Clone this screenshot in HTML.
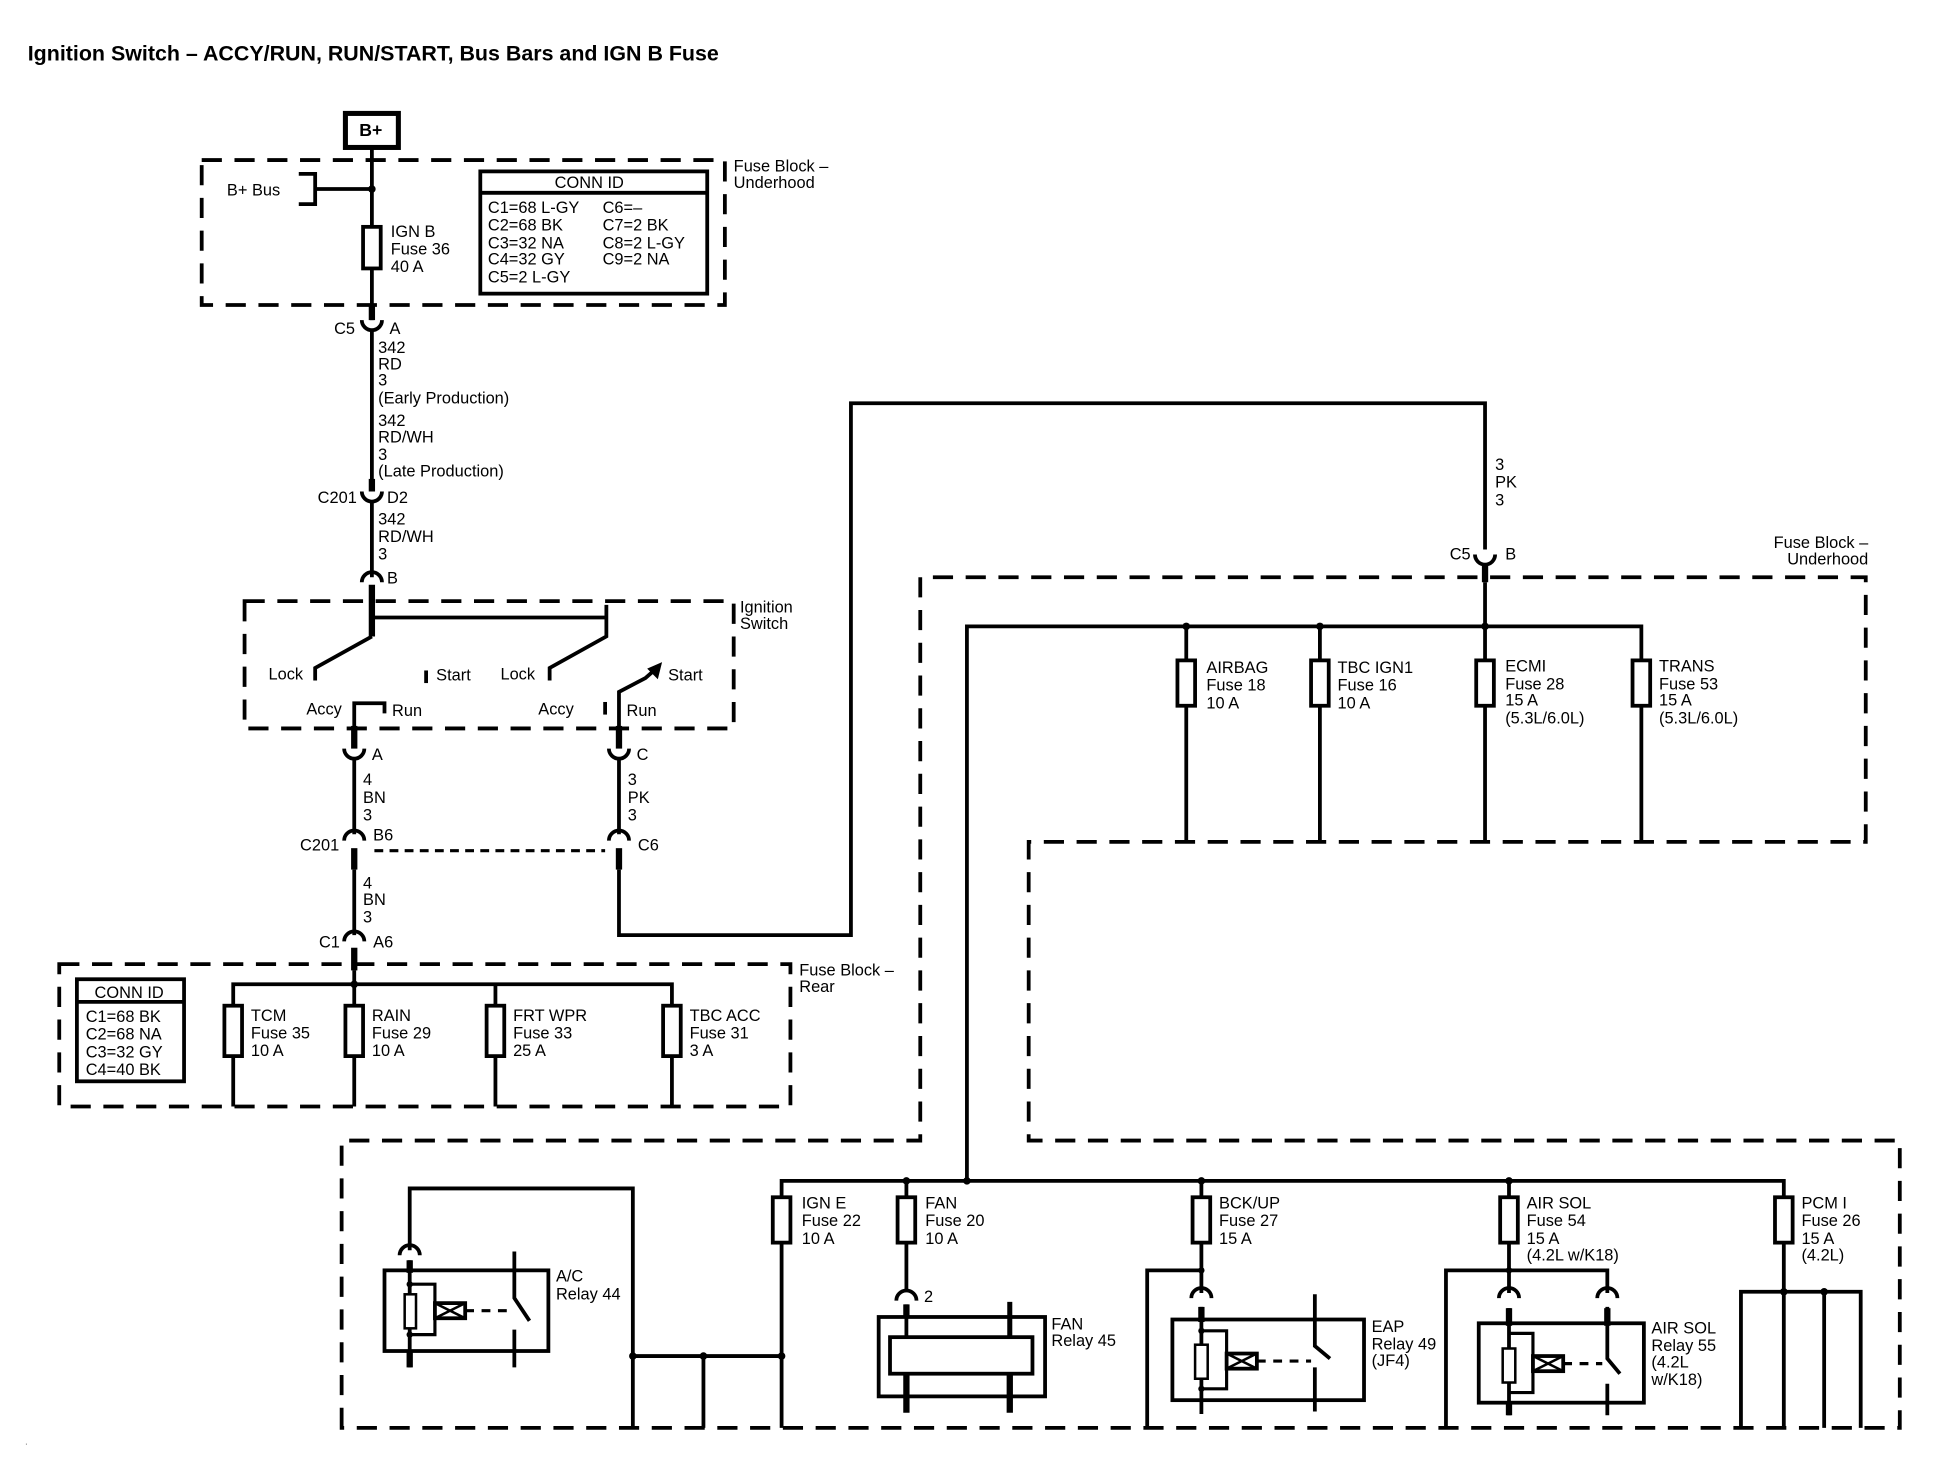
<!DOCTYPE html>
<html><head><meta charset="utf-8"><style>
html,body{margin:0;padding:0;background:#fff;}
svg{display:block}
text{font-family:"Liberation Sans",Arial,sans-serif;font-size:13px;fill:#000;}
</style></head><body>
<svg width="1954" height="1472" viewBox="0 0 1550 1168" preserveAspectRatio="none" xmlns="http://www.w3.org/2000/svg">
<defs>
<g id="relay">
 <rect x="0" y="0" width="130" height="64" fill="none" stroke="#000" stroke-width="3"/>
 <line x1="20" y1="-8" x2="20" y2="77" stroke="#000" stroke-width="3"/>
 <line x1="20" y1="-8" x2="20" y2="2" stroke="#000" stroke-width="5"/>
 <line x1="20" y1="64" x2="20" y2="77" stroke="#000" stroke-width="5"/>
 <path d="M20,11 H40 V51 H20" fill="none" stroke="#000" stroke-width="2.5"/>
 <circle cx="20" cy="11" r="2.5"/><circle cx="20" cy="51" r="2.5"/>
 <rect x="16" y="19" width="9" height="27" fill="#fff" stroke="#000" stroke-width="2"/>
 <rect x="40" y="26" width="24" height="12" fill="#fff" stroke="#000" stroke-width="3"/>
 <path d="M40,26 L64,38 M64,26 L40,38" stroke="#000" stroke-width="2"/>
 <line x1="64" y1="32" x2="98" y2="32" stroke="#000" stroke-width="2.5" stroke-dasharray="7,6"/>
</g>
</defs>
<g stroke="#000" fill="none" stroke-width="3">
<!-- title -->
</g>
<text x="22" y="48" style="font-size:17px;font-weight:bold">Ignition Switch – ACCY/RUN, RUN/START, Bus Bars and IGN B Fuse</text>

<g stroke="#000" fill="none" stroke-width="3">
 <!-- B+ -->
 <rect x="274" y="90" width="42" height="27" stroke-width="4"/>
 <line x1="295" y1="117" x2="295" y2="254"/>
 <!-- dashed box 1 -->
 <rect x="160" y="127" width="415" height="115" stroke-dasharray="16,10"/>
 <path d="M237,138 H250 V162 H237 M250,150 H295"/>
 <rect x="288" y="180" width="14" height="33" fill="#fff"/>
 <!-- conn id -->
 <rect x="381" y="136" width="180" height="97"/>
 <line x1="381" y1="153" x2="561" y2="153"/>
 <!-- C5 cup -->
 <line x1="295" y1="242" x2="295" y2="254" stroke-width="5"/>
 <path d="M287,254 A8,8 0 0 0 303,254"/>
 <line x1="295" y1="262" x2="295" y2="390"/>
 <line x1="295" y1="380" x2="295" y2="390" stroke-width="5"/>
 <path d="M287,390 A8,8 0 0 0 303,390"/>
 <line x1="295" y1="398" x2="295" y2="458"/>
 <path d="M287,462 A8,8 0 0 1 303,462"/>
 <line x1="295" y1="464" x2="295" y2="505" stroke-width="5"/>
 <!-- ignition switch -->
 <rect x="194" y="477" width="388" height="101" stroke-dasharray="16,10"/>
 <path d="M295,490 H481 M481,480 V505 L436,530 V540 M295,505 L250,530 V540"/>
 <line x1="338" y1="532" x2="338" y2="542"/>
 <path d="M281,578 V558 H305 V566"/>
 <line x1="480" y1="557" x2="480" y2="567"/>
 <path d="M491,578 V549 L512,538 L520,531"/>
 <path d="M516,531 L523,528 L521,536 Z" fill="#000"/>
 <!-- A and C -->
 <line x1="281" y1="576" x2="281" y2="594" stroke-width="5"/>
 <path d="M273,594 A8,8 0 0 0 289,594"/>
 <line x1="281" y1="602" x2="281" y2="662"/>
 <path d="M273,667 A8,8 0 0 1 289,667"/>
 <line x1="281" y1="673" x2="281" y2="690" stroke-width="5"/>
 <line x1="281" y1="690" x2="281" y2="742"/>
 <path d="M273,747 A8,8 0 0 1 289,747"/>
 <line x1="281" y1="752" x2="281" y2="770" stroke-width="5"/>
 <line x1="281" y1="770" x2="281" y2="781"/>
 <line x1="491" y1="576" x2="491" y2="594" stroke-width="5"/>
 <path d="M483,594 A8,8 0 0 0 499,594"/>
 <line x1="491" y1="602" x2="491" y2="662"/>
 <path d="M483,667 A8,8 0 0 1 499,667"/>
 <line x1="491" y1="673" x2="491" y2="690" stroke-width="5"/>
 <line x1="297" y1="675" x2="480" y2="675" stroke-width="2.5" stroke-dasharray="7,5"/>
 <path d="M491,690 V742 H675 V320 H1178 V436"/>
 <!-- fuse block rear -->
 <rect x="47" y="765" width="580" height="113" stroke-dasharray="16,10"/>
 <rect x="61" y="777" width="85" height="81"/>
 <line x1="61" y1="795" x2="146" y2="795"/>
 <path d="M185,878 V781 H533 V878 M281,781 V878 M393,781 V878"/>
 <rect x="178" y="798" width="14" height="40" fill="#fff"/>
 <rect x="274" y="798" width="14" height="40" fill="#fff"/>
 <rect x="386" y="798" width="14" height="40" fill="#fff"/>
 <rect x="526" y="798" width="14" height="40" fill="#fff"/>
 <!-- big dashed -->
 <path d="M271,1133 V905 H730 V458 H1480 V668 H816 V905 H1507 V1133 Z" stroke-dasharray="16,10"/>
 <path d="M1170,440 A8,8 0 0 0 1186,440"/>
 <line x1="1178" y1="448" x2="1178" y2="462" stroke-width="5"/>
 <line x1="1178" y1="462" x2="1178" y2="497"/>
 <path d="M767,937 V497 H1302 V668 M941,497 V668 M1047,497 V668 M1178,497 V668"/>
 <rect x="934" y="524" width="14" height="36" fill="#fff"/>
 <rect x="1040" y="524" width="14" height="36" fill="#fff"/>
 <rect x="1171" y="524" width="14" height="36" fill="#fff"/>
 <rect x="1295" y="524" width="14" height="36" fill="#fff"/>
 <!-- lower bus -->
 <path d="M620,1133 V937 H1415 V1025 M719,937 V1024 M953,937 V1026 M1197,937 V1026"/>
 <rect x="613" y="950" width="14" height="36" fill="#fff"/>
 <rect x="712" y="950" width="14" height="36" fill="#fff"/>
 <rect x="946" y="950" width="14" height="36" fill="#fff"/>
 <rect x="1190" y="950" width="14" height="36" fill="#fff"/>
 <rect x="1408" y="950" width="14" height="36" fill="#fff"/>
 <!-- A/C -->
 <path d="M502,1133 V943 H325 V992"/>
 <path d="M317,996 A8,8 0 0 1 333,996"/>
 <path d="M502,1076 H620 M558,1076 V1133"/>
 <path d="M408,993 V1030 L420,1048 M408,1055 V1085"/>
 <!-- FAN relay -->
 <path d="M711,1032 A8,8 0 0 1 727,1032"/>
 <rect x="697" y="1045" width="132" height="63"/>
 <rect x="706" y="1061" width="113" height="29"/>
 <line x1="719" y1="1035" x2="719" y2="1061"/>
 <line x1="719" y1="1090" x2="719" y2="1121" stroke-width="5"/>
 <line x1="719" y1="1035" x2="719" y2="1045" stroke-width="5"/>
 <line x1="801" y1="1033" x2="801" y2="1061" stroke-width="4"/>
 <line x1="801" y1="1090" x2="801" y2="1121" stroke-width="5"/>
 <!-- EAP -->
 <path d="M953,1008 H910 V1133"/>
 <path d="M945,1030 A8,8 0 0 1 961,1030"/>
 <path d="M1043,1027 V1068 L1055,1078 M1043,1085 V1120"/>
 <!-- AIR SOL -->
 <path d="M1197,1008 H1147 V1133 M1197,1008 H1275 V1026"/>
 <path d="M1189,1030 A8,8 0 0 1 1205,1030"/>
 <path d="M1267,1030 A8,8 0 0 1 1283,1030"/>
 <path d="M1275,1037 V1078 L1285,1090 M1275,1098 V1123"/>
 <!-- PCM -->
 <path d="M1381,1133 V1025 H1476 V1133 M1415,1025 V1133 M1447,1025 V1133"/>
</g>
<use href="#relay" x="305" y="1008"/>
<g transform="translate(930,1047)">
 <rect x="0" y="0" width="152" height="64" fill="none" stroke="#000" stroke-width="3"/>
 <line x1="23" y1="-10" x2="23" y2="75" stroke="#000" stroke-width="3"/>
 <line x1="23" y1="-10" x2="23" y2="2" stroke="#000" stroke-width="5"/>
 <path d="M23,9 H43 V55 H23" fill="none" stroke="#000" stroke-width="2.5"/>
 <circle cx="23" cy="9" r="2.5"/><circle cx="23" cy="55" r="2.5"/>
 <rect x="18" y="20" width="10" height="27" fill="#fff" stroke="#000" stroke-width="2"/>
 <rect x="43" y="27" width="24" height="12" fill="#fff" stroke="#000" stroke-width="3"/>
 <path d="M43,27 L67,39 M67,27 L43,39" stroke="#000" stroke-width="2"/>
 <line x1="67" y1="33" x2="110" y2="33" stroke="#000" stroke-width="2.5" stroke-dasharray="7,6"/>
</g>
<g transform="translate(1173,1050)">
 <rect x="0" y="0" width="131" height="63" fill="none" stroke="#000" stroke-width="3"/>
 <line x1="24" y1="-12" x2="24" y2="73" stroke="#000" stroke-width="3"/>
 <line x1="24" y1="-12" x2="24" y2="2" stroke="#000" stroke-width="5"/>
 <line x1="24" y1="63" x2="24" y2="73" stroke="#000" stroke-width="5"/>
 <line x1="102" y1="-12" x2="102" y2="2" stroke="#000" stroke-width="5"/>
 <path d="M24,8 H43 V55 H24" fill="none" stroke="#000" stroke-width="2.5"/>
 <rect x="19" y="20" width="10" height="27" fill="#fff" stroke="#000" stroke-width="2"/>
 <rect x="43" y="26" width="24" height="12" fill="#fff" stroke="#000" stroke-width="3"/>
 <path d="M43,26 L67,38 M67,26 L43,38" stroke="#000" stroke-width="2"/>
 <line x1="67" y1="32" x2="98" y2="32" stroke="#000" stroke-width="2.5" stroke-dasharray="7,6"/>
</g>
<!-- dots -->
<g fill="#000">
 <circle cx="295" cy="150" r="3"/><circle cx="281" cy="781" r="3"/>
 <circle cx="941" cy="497" r="3"/><circle cx="1047" cy="497" r="3"/><circle cx="1178" cy="497" r="3"/>
 <circle cx="767" cy="937" r="3"/><circle cx="719" cy="937" r="3"/><circle cx="953" cy="937" r="3"/><circle cx="1197" cy="937" r="3"/>
 <circle cx="502" cy="1076" r="3"/><circle cx="558" cy="1076" r="3"/><circle cx="620" cy="1076" r="3"/>
 <circle cx="1415" cy="1025" r="3"/><circle cx="1447" cy="1025" r="3"/>
 <circle cx="953" cy="1008" r="2.5"/><circle cx="1197" cy="1008" r="2.5"/>
</g>

<g>
<text x="285" y="108" style="font-size:14px;font-weight:bold">B+</text>
<text x="582" y="136">Fuse Block –</text><text x="582" y="149">Underhood</text>
<text x="180" y="155">B+ Bus</text>
<text x="310" y="188">IGN B</text><text x="310" y="202">Fuse 36</text><text x="310" y="216">40 A</text>
<text x="440" y="149">CONN ID</text>
<text x="387" y="169">C1=68 L-GY</text><text x="387" y="183">C2=68 BK</text><text x="387" y="197">C3=32 NA</text><text x="387" y="210">C4=32 GY</text><text x="387" y="224">C5=2 L-GY</text>
<text x="478" y="169">C6=–</text><text x="478" y="183">C7=2 BK</text><text x="478" y="197">C8=2 L-GY</text><text x="478" y="210">C9=2 NA</text>
<text x="265" y="265">C5</text><text x="309" y="265">A</text>
<text x="300" y="280">342</text><text x="300" y="293">RD</text><text x="300" y="306">3</text><text x="300" y="320">(Early Production)</text>
<text x="300" y="338">342</text><text x="300" y="351">RD/WH</text><text x="300" y="365">3</text><text x="300" y="378">(Late Production)</text>
<text x="252" y="399">C201</text><text x="307" y="399">D2</text>
<text x="300" y="416">342</text><text x="300" y="430">RD/WH</text><text x="300" y="444">3</text>
<text x="307" y="463">B</text>
<text x="587" y="486">Ignition</text><text x="587" y="499">Switch</text>
<text x="213" y="539">Lock</text><text x="346" y="540">Start</text><text x="397" y="539">Lock</text><text x="530" y="540">Start</text>
<text x="243" y="567">Accy</text><text x="311" y="568">Run</text><text x="427" y="567">Accy</text><text x="497" y="568">Run</text>
<text x="295" y="603">A</text><text x="505" y="603">C</text>
<text x="288" y="623">4</text><text x="288" y="637">BN</text><text x="288" y="651">3</text>
<text x="498" y="623">3</text><text x="498" y="637">PK</text><text x="498" y="651">3</text>
<text x="238" y="675">C201</text><text x="296" y="667">B6</text><text x="506" y="675">C6</text>
<text x="288" y="705">4</text><text x="288" y="718">BN</text><text x="288" y="732">3</text>
<text x="253" y="752">C1</text><text x="296" y="752">A6</text>
<text x="634" y="774">Fuse Block –</text><text x="634" y="787">Rear</text>
<text x="75" y="792">CONN ID</text>
<text x="68" y="811">C1=68 BK</text><text x="68" y="825">C2=68 NA</text><text x="68" y="839">C3=32 GY</text><text x="68" y="853">C4=40 BK</text>
<text x="199" y="810">TCM</text><text x="199" y="824">Fuse 35</text><text x="199" y="838">10 A</text>
<text x="295" y="810">RAIN</text><text x="295" y="824">Fuse 29</text><text x="295" y="838">10 A</text>
<text x="407" y="810">FRT WPR</text><text x="407" y="824">Fuse 33</text><text x="407" y="838">25 A</text>
<text x="547" y="810">TBC ACC</text><text x="547" y="824">Fuse 31</text><text x="547" y="838">3 A</text>
<text x="1186" y="373">3</text><text x="1186" y="387">PK</text><text x="1186" y="401">3</text>
<text x="1150" y="444">C5</text><text x="1194" y="444">B</text>
<text x="1482" y="435" text-anchor="end">Fuse Block –</text><text x="1482" y="448" text-anchor="end">Underhood</text>
<text x="957" y="534">AIRBAG</text><text x="957" y="548">Fuse 18</text><text x="957" y="562">10 A</text>
<text x="1061" y="534">TBC IGN1</text><text x="1061" y="548">Fuse 16</text><text x="1061" y="562">10 A</text>
<text x="1194" y="533">ECMI</text><text x="1194" y="547">Fuse 28</text><text x="1194" y="560">15 A</text><text x="1194" y="574">(5.3L/6.0L)</text>
<text x="1316" y="533">TRANS</text><text x="1316" y="547">Fuse 53</text><text x="1316" y="560">15 A</text><text x="1316" y="574">(5.3L/6.0L)</text>
<text x="636" y="959">IGN E</text><text x="636" y="973">Fuse 22</text><text x="636" y="987">10 A</text>
<text x="734" y="959">FAN</text><text x="734" y="973">Fuse 20</text><text x="734" y="987">10 A</text>
<text x="967" y="959">BCK/UP</text><text x="967" y="973">Fuse 27</text><text x="967" y="987">15 A</text>
<text x="1211" y="959">AIR SOL</text><text x="1211" y="973">Fuse 54</text><text x="1211" y="987">15 A</text><text x="1211" y="1000">(4.2L w/K18)</text>
<text x="1429" y="959">PCM I</text><text x="1429" y="973">Fuse 26</text><text x="1429" y="987">15 A</text><text x="1429" y="1000">(4.2L)</text>
<text x="441" y="1017">A/C</text><text x="441" y="1031">Relay 44</text>
<text x="733" y="1033">2</text>
<text x="834" y="1055">FAN</text><text x="834" y="1068">Relay 45</text>
<text x="1088" y="1057">EAP</text><text x="1088" y="1071">Relay 49</text><text x="1088" y="1084">(JF4)</text>
<text x="1310" y="1058">AIR SOL</text><text x="1310" y="1072">Relay 55</text><text x="1310" y="1085">(4.2L</text><text x="1310" y="1099">w/K18)</text>
<text x="20" y="1146" style="font-size:6px">.</text>
</g>
</svg>
</body></html>
